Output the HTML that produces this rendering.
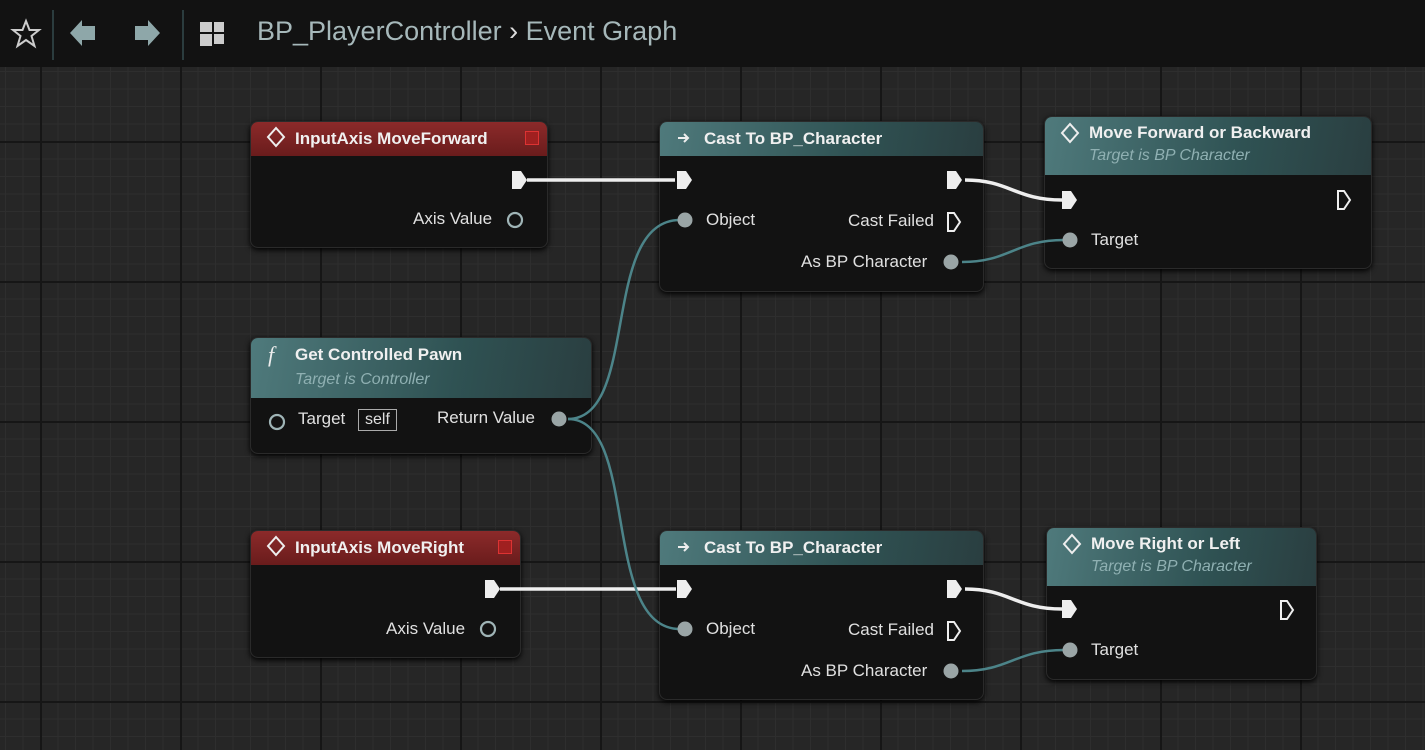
<!DOCTYPE html>
<html><head><meta charset="utf-8"><style>
body{margin:0;width:1425px;height:750px;overflow:hidden;background:#262626;font-family:"Liberation Sans",sans-serif;position:relative}
.grid{position:absolute;left:0;top:67px;width:1425px;height:683px;
background-image:
linear-gradient(to right,#161616 2px,transparent 2px),
linear-gradient(to bottom,#161616 2px,transparent 2px),
linear-gradient(to right,#2e2e2e 1px,transparent 1px),
linear-gradient(to bottom,#2e2e2e 1px,transparent 1px);
background-size:140px 140px,140px 140px,17.5px 17.5px,17.5px 17.5px;
background-position:40px 74px,40px 74px,40px 74px,40px 74px;}
.top{position:absolute;left:0;top:0;width:1425px;height:67px;background:#121212;color:#b8c4c6}
.node{position:absolute;background:#121212;border-radius:8px;box-shadow:0 2px 6px #000;border:1px solid #2a2a2a;overflow:hidden}
.hd{position:relative;color:#f0f0f0;font-weight:bold;font-size:17px;padding-left:44px;box-sizing:border-box}
.red{background:linear-gradient(#8c2a2a,#6a1c1c)}
.teal{background:linear-gradient(100deg,#4f7a7c,#2f5253 60%,#2a3e40)}
.sub{font-style:italic;font-weight:normal;color:#8fb0b2;font-size:16px}
.t{position:absolute;color:#e0e0e0;font-size:17px;white-space:nowrap}
svg{position:absolute;left:0;top:0}
</style></head><body>
<div class="grid"></div>
<div class="top">
<div style="position:absolute;left:52px;top:10px;width:2px;height:50px;background:#2b3c3e"></div>
<div style="position:absolute;left:182px;top:10px;width:2px;height:50px;background:#2b3c3e"></div>
<div style="position:absolute;left:257px;top:16px;font-size:27px;color:#a6b8ba">BP_PlayerController <span style="color:#ddd">›</span> Event Graph</div>
</div>
<svg width="1425" height="750">
<polygon points="26,21 29.5,30 39,30 31.5,36 34.5,46 26,40 17.5,46 20.5,36 13,30 22.5,30" fill="none" stroke="#ccc" stroke-width="2"/>
<polygon points="70,33 82,20 82,26 95,26 95,40 82,40 82,46" fill="#8ea7a9"/>
<polygon points="160,33 148,20 148,26 135,26 135,40 148,40 148,46" fill="#8ea7a9"/>
<rect x="200" y="22" width="12" height="10" fill="#ccc"/><rect x="214" y="22" width="10" height="10" fill="#ccc"/>
<rect x="200" y="34" width="12" height="12" fill="#ccc"/><rect x="214" y="34" width="10" height="10" fill="#ccc"/>
</svg>

<div class="node" style="left:250px;top:121px;width:296px;height:125px">
<div class="hd red" style="height:34px;line-height:34px">InputAxis MoveForward
<div style="position:absolute;right:8px;top:9px;width:12px;height:12px;background:#a02020;border:1px solid #d33"></div></div></div>
<div class="node" style="left:659px;top:121px;width:323px;height:169px">
<div class="hd teal" style="height:34px;line-height:34px">Cast To BP_Character</div></div>
<div class="node" style="left:1044px;top:116px;width:326px;height:151px">
<div class="hd teal" style="height:58px;padding-top:5px;line-height:22px">Move Forward or Backward<br><span class="sub">Target is BP Character</span></div></div>
<div class="node" style="left:250px;top:337px;width:340px;height:115px">
<div class="hd teal" style="height:60px;padding-top:5px;line-height:24px">Get Controlled Pawn<br><span class="sub">Target is Controller</span></div></div>
<div class="node" style="left:250px;top:530px;width:269px;height:126px">
<div class="hd red" style="height:34px;line-height:34px">InputAxis MoveRight
<div style="position:absolute;right:8px;top:9px;width:12px;height:12px;background:#a02020;border:1px solid #d33"></div></div></div>
<div class="node" style="left:659px;top:530px;width:323px;height:168px">
<div class="hd teal" style="height:34px;line-height:34px">Cast To BP_Character</div></div>
<div class="node" style="left:1046px;top:527px;width:269px;height:151px">
<div class="hd teal" style="height:58px;padding-top:5px;line-height:22px">Move Right or Left<br><span class="sub">Target is BP Character</span></div></div>

<div class="t" style="left:413px;top:209px">Axis Value</div>
<div class="t" style="left:706px;top:210px">Object</div>
<div class="t" style="left:848px;top:211px">Cast Failed</div>
<div class="t" style="left:801px;top:252px">As BP Character</div>
<div class="t" style="left:1091px;top:230px">Target</div>
<div class="t" style="left:298px;top:409px">Target</div>
<div class="t" style="left:358px;top:409px;border:1px solid #aaa;padding:0 6px;font-size:16px;line-height:20px">self</div>
<div class="t" style="left:437px;top:408px">Return Value</div>
<div class="t" style="left:386px;top:619px">Axis Value</div>
<div class="t" style="left:706px;top:619px">Object</div>
<div class="t" style="left:848px;top:620px">Cast Failed</div>
<div class="t" style="left:801px;top:661px">As BP Character</div>
<div class="t" style="left:1091px;top:640px">Target</div>

<svg width="1425" height="750">
<g fill="none" stroke-width="2.5">
<path d="M527 180 H675" stroke="#eee" stroke-width="3.5"/>
<path d="M500 589 H676" stroke="#eee" stroke-width="3.5"/>
<path d="M965 180 C1010 180,1015 200,1062 200" stroke="#eee" stroke-width="3.5"/>
<path d="M965 589 C1010 589,1015 609,1062 609" stroke="#eee" stroke-width="3.5"/>
<path d="M568 419 C640 419,600 220,680 220" stroke="#4c8489"/>
<path d="M568 419 C640 419,600 629,680 629" stroke="#4c8489"/>
<path d="M962 262 C1010 262,1015 240,1064 240" stroke="#4c8489"/>
<path d="M962 671 C1010 671,1015 650,1064 650" stroke="#4c8489"/>
</g>
<g fill="#eee">
<path d="M512 171 h9 l6 9 l-6 9 h-9z"/><path d="M677 171 h9 l6 9 l-6 9 h-9z"/>
<path d="M947 171 h9 l6 9 l-6 9 h-9z"/><path d="M1062 191 h9 l6 9 l-6 9 h-9z"/>
<path d="M485 580 h9 l6 9 l-6 9 h-9z"/><path d="M677 580 h9 l6 9 l-6 9 h-9z"/>
<path d="M947 580 h9 l6 9 l-6 9 h-9z"/><path d="M1062 600 h9 l6 9 l-6 9 h-9z"/>
</g>
<g fill="none" stroke="#eee" stroke-width="2">
<path d="M948 213 h6 l6 9 l-6 9 h-6z"/><path d="M948 622 h6 l6 9 l-6 9 h-6z"/>
<path d="M1338 191 h6 l6 9 l-6 9 h-6z"/><path d="M1281 601 h6 l6 9 l-6 9 h-6z"/>
</g>
<g fill="#9aa5a6">
<circle cx="685" cy="220" r="7.5"/><circle cx="951" cy="262" r="7.5"/><circle cx="1070" cy="240" r="7.5"/>
<circle cx="559" cy="419" r="7.5"/><circle cx="685" cy="629" r="7.5"/><circle cx="951" cy="671" r="7.5"/><circle cx="1070" cy="650" r="7.5"/>
</g>
<g fill="none" stroke="#9fb4b6" stroke-width="2.2">
<circle cx="515" cy="220" r="7"/><circle cx="488" cy="629" r="7"/><circle cx="277" cy="422" r="7"/>
</g>
<g fill="none" stroke="#eee" stroke-width="2">
<path d="M276 128 l8 9 l-8 9 l-8 -9z"/><path d="M276 537 l8 9 l-8 9 l-8 -9z"/>
<path d="M1070 124 l8 9 l-8 9 l-8 -9z"/><path d="M1072 535 l8 9 l-8 9 l-8 -9z"/>
<path d="M678 138 h10 M684 134 l4 4 l-4 4"/><path d="M678 547 h10 M684 543 l4 4 l-4 4"/>
</g>
<text x="268" y="362" fill="#eee" font-size="22" font-style="italic" font-family="Liberation Serif">f</text>
</svg>
</body></html>
